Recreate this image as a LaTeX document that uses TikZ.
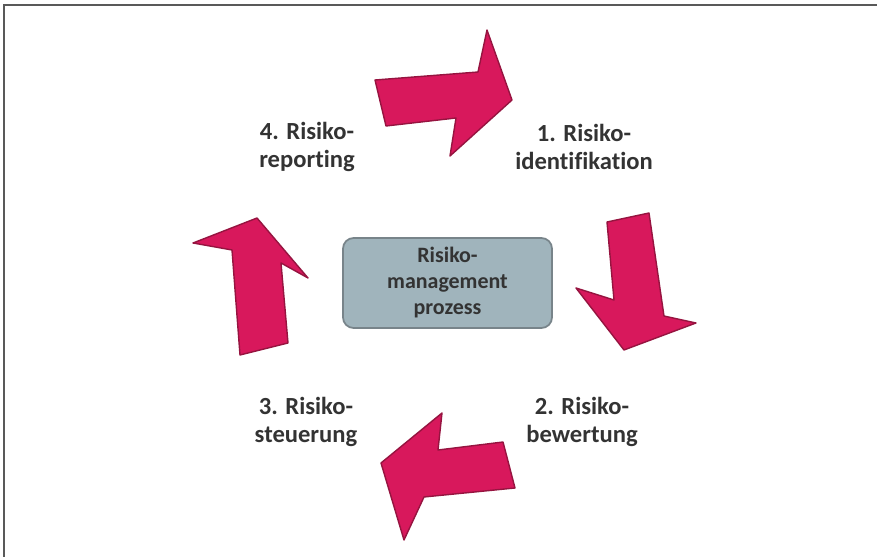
\documentclass[tikz,border=0pt]{standalone}
\usepackage{fontspec}
\setmainfont[Ligatures=NoCommon]{Carlito}
\usepackage{xcolor}
\usepackage{tikz}
\usetikzlibrary{positioning,arrows.meta,shapes.geometric,calc}

\definecolor{riskred}{RGB}{216,24,92}
\definecolor{riskdark}{RGB}{150,20,64}
\definecolor{corefill}{RGB}{160,180,188}
\definecolor{coreline}{RGB}{120,132,138}

\begin{document}
\begin{tikzpicture}[
  x=0.02cm, y=-0.02cm,
  core/.style={draw=coreline, fill=corefill, rounded corners=6pt, line width=1pt,
               minimum width=4.18cm, minimum height=1.8cm, align=center,
               font=\fontsize{12.5}{14.8}\selectfont\bfseries, text=black!80},
  lbl/.style={align=center, font=\fontsize{14}{15.5}\selectfont\bfseries, text=black!80},
  blk/.style={fill=riskred, draw=riskdark, line width=0.8pt, line join=round},
]
\useasboundingbox (0,0) rectangle (877,557);
\draw[gray!70!black, line width=1.2pt] (4,557) -- (4,5) -- (877,5);

\node[core] (proc) at (447.5,283) {Risiko-\\management\\prozess};

\node[lbl] (l4) at (307,147) {4. Risiko-\\reporting};
\node[lbl] (l1) at (584,147) {1. Risiko-\\identifikation};
\node[lbl] (l3) at (306,422) {3. Risiko-\\steuerung};
\node[lbl] (l2) at (582,422) {2. Risiko-\\bewertung};

% block arrows of the cycle
\fill[blk] (375,80) -- (478,72) -- (487,30) -- (512,100) -- (450,156)
  -- (456,118) -- (386,126) -- cycle;
\fill[blk] (607,222) -- (649,213) -- (664,316) -- (696,323) -- (624,350)
  -- (576,288) -- (614,300) -- cycle;
\fill[blk] (503,442) -- (515,488) -- (424,497) -- (404,540) -- (381,463)
  -- (442,413) -- (438,450) -- cycle;
\fill[blk] (257,218) -- (308,278) -- (281,263) -- (288,343) -- (240,355)
  -- (232,250) -- (193,243) -- cycle;
\end{tikzpicture}
\end{document}
